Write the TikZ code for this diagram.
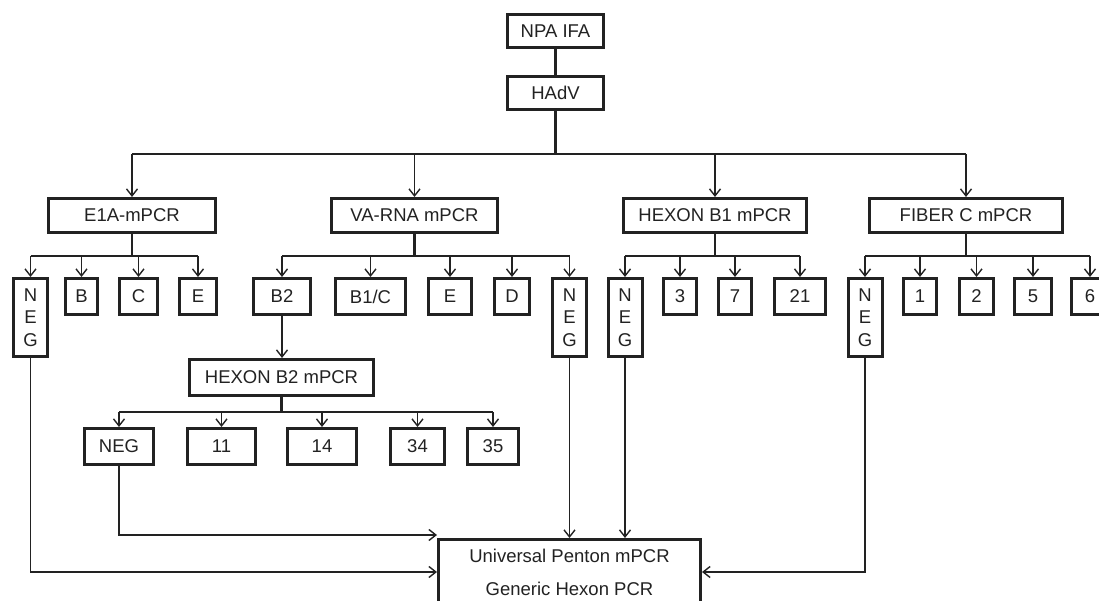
\documentclass[tikz,border=0pt]{standalone}
\usepackage{fontspec}
\setmainfont{Liberation Sans}
\usetikzlibrary{arrows.meta,positioning}
\definecolor{ink}{HTML}{222222}
\newcommand{\dgfont}{\fontsize{18.5}{22.5}\selectfont}
\tikzset{
  box/.style    = {rectangle, draw=ink, line width=3pt, fill=white,
                   inner sep=0pt, minimum height=33pt, align=center,
                   text=ink, font=\dgfont},
  kid/.style    = {box, minimum height=36pt},
  negbox/.style = {box, minimum width=34pt, minimum height=78pt},
  trunk/.style  = {draw=ink, line width=2.3pt},
  arr/.style    = {-{Straight Barb[length=7pt,width=11pt]}, draw=ink,
                   line width=1.4pt}
}
\begin{document}
\begin{tikzpicture}[x=1pt, y=-1pt]
  \useasboundingbox (0,0) rectangle (1099,601);
  % top
  \node[box, minimum width=96pt] (npa) at (555.5,31) {NPA IFA};
  \node[box, minimum width=96pt, below=26pt of npa] (hadv) {HAdV};
  % first tests
  \node[box, minimum width=167pt, minimum height=34pt] (e1a)  at (132,215.5)   {E1A-mPCR};
  \node[box, minimum width=166pt, minimum height=34pt] (vrna) at (414.5,215.5) {VA-RNA mPCR};
  \node[box, minimum width=183pt, minimum height=34pt] (hxb1) at (715,215.5)   {HEXON B1 mPCR};
  \node[box, minimum width=193pt, minimum height=34pt] (fibc) at (966,215.5)   {FIBER C mPCR};
  % E1A results
  \node[negbox] (aneg) at (30.5,317.5) {N\\E\\G};
  \node[kid, minimum width=32pt] (ab) at (81.5,296.5)  {B};
  \node[kid, minimum width=38pt] (ac) at (138.5,296.5) {C};
  \node[kid, minimum width=37pt] (ae) at (198,296.5)   {E};
  % VA-RNA results
  \node[kid, minimum width=57pt] (vb2)  at (282,296.5)   {B2};
  \node[kid, minimum width=70pt] (vb1c) at (370.5,296.5) {B1/C};
  \node[kid, minimum width=43pt] (ve)   at (450,296.5)   {E};
  \node[kid, minimum width=35pt] (vd)   at (512,296.5)   {D};
  \node[negbox] (vneg) at (569.5,317.5) {N\\E\\G};
  % HEXON B1 results
  \node[negbox] (hneg) at (625,317.5) {N\\E\\G};
  \node[kid, minimum width=33pt] (h3)  at (680,296.5) {3};
  \node[kid, minimum width=33pt] (h7)  at (735,296.5) {7};
  \node[kid, minimum width=51pt] (h21) at (800,296.5) {21};
  % FIBER C results
  \node[negbox] (fneg) at (865,317.5) {N\\E\\G};
  \node[kid, minimum width=33pt] (f1) at (920,296.5)   {1};
  \node[kid, minimum width=34pt] (f2) at (976.5,296.5) {2};
  \node[kid, minimum width=37pt] (f5) at (1033,296.5)  {5};
  \node[kid, minimum width=37pt] (f6) at (1090,296.5)  {6};
  % HEXON B2
  \node[box, minimum width=184pt, minimum height=36pt] (hxb2) at (281.5,377.5) {HEXON B2 mPCR};
  \node[kid, minimum width=69pt] (bneg) at (119,446.5)   {NEG};
  \node[kid, minimum width=68pt] (b11)  at (221.5,446.5) {11};
  \node[kid, minimum width=69pt] (b14)  at (322,446.5)   {14};
  \node[kid, minimum width=54pt] (b34)  at (417.5,446.5) {34};
  \node[kid, minimum width=51pt] (b35)  at (493,446.5)   {35};
  % last step
  \node[box, minimum width=262pt, minimum height=65pt,
        font=\fontsize{18.5}{33}\selectfont] (pcr) at (569.5,572)
        {Universal Penton mPCR\\Generic Hexon PCR};

  % connectors
  \draw[trunk] (npa) -- (hadv);
  \draw[trunk] (hadv.south) -- ++(0,43) coordinate (jtop);
  \draw[trunk] (jtop -| e1a) -- (jtop -| fibc);
  \foreach \n in {e1a,vrna,hxb1,fibc}
    \draw[arr] (jtop -| \n) -- (\n.north);

  \foreach \p/\first/\last/\d in {e1a/aneg/ae/22, vrna/vb2/vneg/22,
                                  hxb1/hneg/h21/22, fibc/fneg/f6/22, hxb2/bneg/b35/15}{
    \draw[trunk] (\p.south) -- ++(0,\d) coordinate (j\p);
    \draw[trunk] (j\p -| \first) -- (j\p -| \last);
  }
  \foreach \p/\kids in {e1a/{aneg,ab,ac,ae}, vrna/{vb2,vb1c,ve,vd,vneg},
                        hxb1/{hneg,h3,h7,h21}, fibc/{fneg,f1,f2,f5,f6},
                        hxb2/{bneg,b11,b14,b34,b35}}
    \foreach \k in \kids
      \draw[arr] (j\p -| \k) -- (\k.north);

  \draw[arr] (vb2.south) -- (vb2.south |- hxb2.north);
  % negatives
  \draw[arr] (aneg.south) |- (pcr.west);
  \draw[arr] (bneg.south) |- ([yshift=3pt]pcr.north west);
  \draw[arr] (vneg.south) -- (vneg.south |- pcr.north);
  \draw[arr] (hneg.south) -- (hneg.south |- pcr.north);
  \draw[arr] (fneg.south) |- (pcr.east);
\end{tikzpicture}
\end{document}
